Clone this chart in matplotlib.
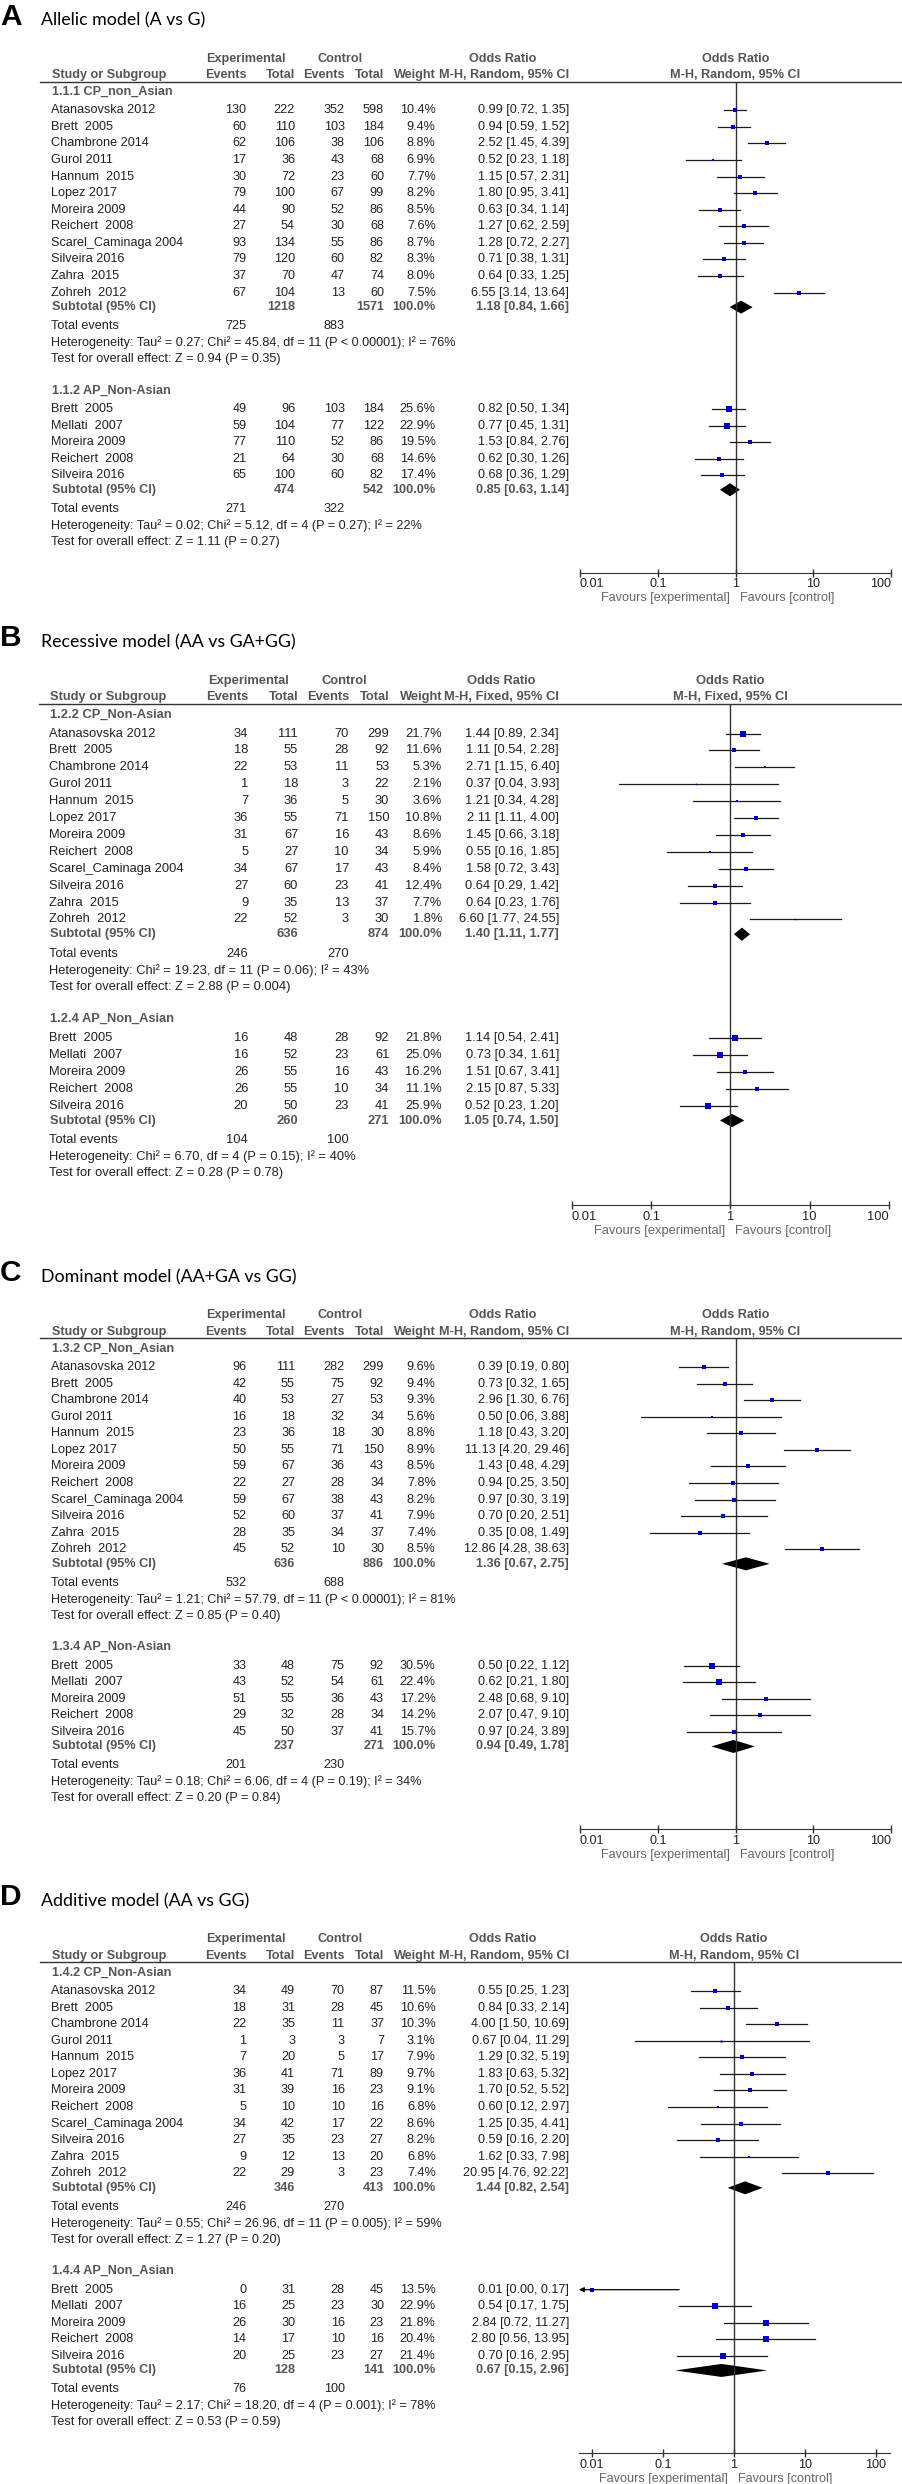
import numpy as np
import matplotlib.pyplot as plt
from matplotlib.ticker import NullLocator

plt.rcParams['font.family'] = 'Liberation Sans'

cp_studies = ["Atanasovska 2012", "Brett  2005", "Chambrone 2014", "Gurol 2011", "Hannum  2015",
              "Lopez 2017", "Moreira 2009", "Reichert  2008", "Scarel_Caminaga 2004",
              "Silveira 2016", "Zahra  2015", "Zohreh  2012"]
ap_studies = ["Brett  2005", "Mellati  2007", "Moreira 2009", "Reichert  2008", "Silveira 2016"]

# A - allelic model
a_cp_exp_events = [130, 60, 62, 17, 30, 79, 44, 27, 93, 79, 37, 67]
a_cp_exp_total = [222, 110, 106, 36, 72, 100, 90, 54, 134, 120, 70, 104]
a_cp_ctl_events = [352, 103, 38, 43, 23, 67, 52, 30, 55, 60, 47, 13]
a_cp_ctl_total = [598, 184, 106, 68, 60, 99, 86, 68, 86, 82, 74, 60]
a_cp_weight = [10.4, 9.4, 8.8, 6.9, 7.7, 8.2, 8.5, 7.6, 8.7, 8.3, 8.0, 7.5]
a_cp_or = [0.99, 0.94, 2.52, 0.52, 1.15, 1.80, 0.63, 1.27, 1.28, 0.71, 0.64, 6.55]
a_cp_lo = [0.72, 0.59, 1.45, 0.23, 0.57, 0.95, 0.34, 0.62, 0.72, 0.38, 0.33, 3.14]
a_cp_hi = [1.35, 1.52, 4.39, 1.18, 2.31, 3.41, 1.14, 2.59, 2.27, 1.31, 1.25, 13.64]
a_cp_subtotal = [1218, 1571, 1.18, 0.84, 1.66]
a_cp_total_events = [725, 883]
a_cp_het = "Heterogeneity: Tau² = 0.27; Chi² = 45.84, df = 11 (P < 0.00001); I² = 76%"
a_cp_test = "Test for overall effect: Z = 0.94 (P = 0.35)"

a_ap_exp_events = [49, 59, 77, 21, 65]
a_ap_exp_total = [96, 104, 110, 64, 100]
a_ap_ctl_events = [103, 77, 52, 30, 60]
a_ap_ctl_total = [184, 122, 86, 68, 82]
a_ap_weight = [25.6, 22.9, 19.5, 14.6, 17.4]
a_ap_or = [0.82, 0.77, 1.53, 0.62, 0.68]
a_ap_lo = [0.50, 0.45, 0.84, 0.30, 0.36]
a_ap_hi = [1.34, 1.31, 2.76, 1.26, 1.29]
a_ap_subtotal = [474, 542, 0.85, 0.63, 1.14]
a_ap_total_events = [271, 322]
a_ap_het = "Heterogeneity: Tau² = 0.02; Chi² = 5.12, df = 4 (P = 0.27); I² = 22%"
a_ap_test = "Test for overall effect: Z = 1.11 (P = 0.27)"

# B - recessive model
b_cp_exp_events = [34, 18, 22, 1, 7, 36, 31, 5, 34, 27, 9, 22]
b_cp_exp_total = [111, 55, 53, 18, 36, 55, 67, 27, 67, 60, 35, 52]
b_cp_ctl_events = [70, 28, 11, 3, 5, 71, 16, 10, 17, 23, 13, 3]
b_cp_ctl_total = [299, 92, 53, 22, 30, 150, 43, 34, 43, 41, 37, 30]
b_cp_weight = [21.7, 11.6, 5.3, 2.1, 3.6, 10.8, 8.6, 5.9, 8.4, 12.4, 7.7, 1.8]
b_cp_or = [1.44, 1.11, 2.71, 0.37, 1.21, 2.11, 1.45, 0.55, 1.58, 0.64, 0.64, 6.60]
b_cp_lo = [0.89, 0.54, 1.15, 0.04, 0.34, 1.11, 0.66, 0.16, 0.72, 0.29, 0.23, 1.77]
b_cp_hi = [2.34, 2.28, 6.40, 3.93, 4.28, 4.00, 3.18, 1.85, 3.43, 1.42, 1.76, 24.55]
b_cp_subtotal = [636, 874, 1.40, 1.11, 1.77]
b_cp_total_events = [246, 270]
b_cp_het = "Heterogeneity: Chi² = 19.23, df = 11 (P = 0.06); I² = 43%"
b_cp_test = "Test for overall effect: Z = 2.88 (P = 0.004)"

b_ap_exp_events = [16, 16, 26, 26, 20]
b_ap_exp_total = [48, 52, 55, 55, 50]
b_ap_ctl_events = [28, 23, 16, 10, 23]
b_ap_ctl_total = [92, 61, 43, 34, 41]
b_ap_weight = [21.8, 25.0, 16.2, 11.1, 25.9]
b_ap_or = [1.14, 0.73, 1.51, 2.15, 0.52]
b_ap_lo = [0.54, 0.34, 0.67, 0.87, 0.23]
b_ap_hi = [2.41, 1.61, 3.41, 5.33, 1.20]
b_ap_subtotal = [260, 271, 1.05, 0.74, 1.50]
b_ap_total_events = [104, 100]
b_ap_het = "Heterogeneity: Chi² = 6.70, df = 4 (P = 0.15); I² = 40%"
b_ap_test = "Test for overall effect: Z = 0.28 (P = 0.78)"

# C - dominant model
c_cp_exp_events = [96, 42, 40, 16, 23, 50, 59, 22, 59, 52, 28, 45]
c_cp_exp_total = [111, 55, 53, 18, 36, 55, 67, 27, 67, 60, 35, 52]
c_cp_ctl_events = [282, 75, 27, 32, 18, 71, 36, 28, 38, 37, 34, 10]
c_cp_ctl_total = [299, 92, 53, 34, 30, 150, 43, 34, 43, 41, 37, 30]
c_cp_weight = [9.6, 9.4, 9.3, 5.6, 8.8, 8.9, 8.5, 7.8, 8.2, 7.9, 7.4, 8.5]
c_cp_or = [0.39, 0.73, 2.96, 0.50, 1.18, 11.13, 1.43, 0.94, 0.97, 0.70, 0.35, 12.86]
c_cp_lo = [0.19, 0.32, 1.30, 0.06, 0.43, 4.20, 0.48, 0.25, 0.30, 0.20, 0.08, 4.28]
c_cp_hi = [0.80, 1.65, 6.76, 3.88, 3.20, 29.46, 4.29, 3.50, 3.19, 2.51, 1.49, 38.63]
c_cp_subtotal = [636, 886, 1.36, 0.67, 2.75]
c_cp_total_events = [532, 688]
c_cp_het = "Heterogeneity: Tau² = 1.21; Chi² = 57.79, df = 11 (P < 0.00001); I² = 81%"
c_cp_test = "Test for overall effect: Z = 0.85 (P = 0.40)"

c_ap_exp_events = [33, 43, 51, 29, 45]
c_ap_exp_total = [48, 52, 55, 32, 50]
c_ap_ctl_events = [75, 54, 36, 28, 37]
c_ap_ctl_total = [92, 61, 43, 34, 41]
c_ap_weight = [30.5, 22.4, 17.2, 14.2, 15.7]
c_ap_or = [0.50, 0.62, 2.48, 2.07, 0.97]
c_ap_lo = [0.22, 0.21, 0.68, 0.47, 0.24]
c_ap_hi = [1.12, 1.80, 9.10, 9.10, 3.89]
c_ap_subtotal = [237, 271, 0.94, 0.49, 1.78]
c_ap_total_events = [201, 230]
c_ap_het = "Heterogeneity: Tau² = 0.18; Chi² = 6.06, df = 4 (P = 0.19); I² = 34%"
c_ap_test = "Test for overall effect: Z = 0.20 (P = 0.84)"

# D - additive model
d_cp_exp_events = [34, 18, 22, 1, 7, 36, 31, 5, 34, 27, 9, 22]
d_cp_exp_total = [49, 31, 35, 3, 20, 41, 39, 10, 42, 35, 12, 29]
d_cp_ctl_events = [70, 28, 11, 3, 5, 71, 16, 10, 17, 23, 13, 3]
d_cp_ctl_total = [87, 45, 37, 7, 17, 89, 23, 16, 22, 27, 20, 23]
d_cp_weight = [11.5, 10.6, 10.3, 3.1, 7.9, 9.7, 9.1, 6.8, 8.6, 8.2, 6.8, 7.4]
d_cp_or = [0.55, 0.84, 4.00, 0.67, 1.29, 1.83, 1.70, 0.60, 1.25, 0.59, 1.62, 20.95]
d_cp_lo = [0.25, 0.33, 1.50, 0.04, 0.32, 0.63, 0.52, 0.12, 0.35, 0.16, 0.33, 4.76]
d_cp_hi = [1.23, 2.14, 10.69, 11.29, 5.19, 5.32, 5.52, 2.97, 4.41, 2.20, 7.98, 92.22]
d_cp_subtotal = [346, 413, 1.44, 0.82, 2.54]
d_cp_total_events = [246, 270]
d_cp_het = "Heterogeneity: Tau² = 0.55; Chi² = 26.96, df = 11 (P = 0.005); I² = 59%"
d_cp_test = "Test for overall effect: Z = 1.27 (P = 0.20)"

d_ap_exp_events = [0, 16, 26, 14, 20]
d_ap_exp_total = [31, 25, 30, 17, 25]
d_ap_ctl_events = [28, 23, 16, 10, 23]
d_ap_ctl_total = [45, 30, 23, 16, 27]
d_ap_weight = [13.5, 22.9, 21.8, 20.4, 21.4]
d_ap_or = [0.01, 0.54, 2.84, 2.80, 0.70]
d_ap_lo = [0.00, 0.17, 0.72, 0.56, 0.16]
d_ap_hi = [0.17, 1.75, 11.27, 13.95, 2.95]
d_ap_subtotal = [128, 141, 0.67, 0.15, 2.96]
d_ap_total_events = [76, 100]
d_ap_het = "Heterogeneity: Tau² = 2.17; Chi² = 18.20, df = 4 (P = 0.001); I² = 78%"
d_ap_test = "Test for overall effect: Z = 0.53 (P = 0.59)"

W, H = 902, 2484
TXT = '#222222'
GREY = '#555555'
BLUE = '#0000c0'

fig = plt.figure(figsize=(W / 100, H / 100), dpi=100)
page = fig.add_axes([0, 0, 1, 1])
page.set_xlim(0, W)
page.set_ylim(H, 0)
page.axis('off')

cols_main = dict(name=51, ev1=246.4, n1=295, ev2=344.6, n2=384, w=435.7, orx=569,
                 exp_c=246, ctl_c=340, orh_c=502.7, line0=40.4)
cols_b = dict(name=49.3, ev1=248.2, n1=298.2, ev2=348.9, n2=389.3, w=442.1, orx=559,
              exp_c=248.2, ctl_c=344.6, orh_c=500.9, line0=38.6)


def group(label, studies, ev1, n1, ev2, n2, w, est, lo, hi, sub, tot, het, test):
    return dict(label=label, studies=studies, ev1=ev1, n1=n1, ev2=ev2, n2=n2, w=w,
                est=est, lo=lo, hi=hi, sub=sub, tot=tot, het=het, test=test)


def ci_text(e, l, h):
    return f"{e:.2f} [{l:.2f}, {h:.2f}]"


def layout(groups, U, k):
    pos = []
    y = U + 10 * k
    for gi, g in enumerate(groups):
        if gi:
            y += 31.3 * k
        rows = y + 18.65 * k + 16.57 * k * np.arange(len(g['studies']))
        sub = rows[-1] + 14.5 * k
        tot = sub + 19 * k
        het = tot + 16.5 * k
        test = het + 16.4 * k
        pos.append(dict(head=y, rows=rows, sub=sub, tot=tot, het=het, test=test))
        y = test
    return pos, y + 31 * k


def draw_panel(letter, title, method, groups, U, k, c, fx0, fx1, xlim, edge_labels):
    fs = 9.1 * k
    pos, axis_y = layout(groups, U, k)

    def put(x, y, s, ha='left', bold=False, color=TXT):
        page.text(x, y, s, ha=ha, va='center', fontsize=fs, color=color,
                  fontweight='bold' if bold else 'normal')

    page.text(0, U - 65 * k, letter, ha='left', va='center', fontsize=21.5,
              fontweight='bold', color='black')
    page.text(41, U - 61 * k, title, ha='left', va='center', fontsize=12.8,
              family='Lato', color='black')

    # forest axes
    ax = fig.add_axes([fx0 / W, 1 - axis_y / H, (fx1 - fx0) / W, (axis_y - U) / H])
    ax.set_xscale('log')
    ax.set_xlim(xlim)
    ax.set_ylim(axis_y, U)
    ax.patch.set_visible(False)
    for side in ['left', 'right', 'top']:
        ax.spines[side].set_visible(False)
    ax.spines['bottom'].set_color('#333333')
    ax.axvline(1, color='#333333', lw=1)
    ax.set_yticks([])
    ax.set_xticks([0.01, 0.1, 1, 10, 100])
    ax.set_xticklabels(['0.01', '0.1', '1', '10', '100'])
    ax.xaxis.set_minor_locator(NullLocator())
    ax.tick_params(axis='x', direction='inout', length=6, width=1, pad=1,
                   labelsize=fs, color='#333333', labelcolor=TXT)
    if edge_labels:
        tl = ax.get_xticklabels()
        tl[0].set_ha('left')
        tl[-1].set_ha('right')
    lx = np.log10(xlim)
    cx = fx0 + (fx1 - fx0) * (-lx[0]) / (lx[1] - lx[0])

    # headers
    h1, h2 = U - 23 * k, U - 6.7 * k
    put(c['exp_c'], h1, 'Experimental', 'center', True, GREY)
    put(c['ctl_c'], h1, 'Control', 'center', True, GREY)
    put(c['orh_c'], h1, 'Odds Ratio', 'center', True, GREY)
    put(cx, h1, 'Odds Ratio', 'center', True, GREY)
    put(c['name'] + 0.7, h2, 'Study or Subgroup', bold=True, color=GREY)
    for key, s in [('ev1', 'Events'), ('n1', 'Total'), ('ev2', 'Events'),
                   ('n2', 'Total'), ('w', 'Weight'), ('orx', method)]:
        put(c[key], h2, s, 'right', True, GREY)
    put(cx, h2, method, 'center', True, GREY)
    page.plot([c['line0'], W], [U, U], color='#333333', lw=1)

    for g, p in zip(groups, pos):
        put(c['name'] + 0.7, p['head'], g['label'], bold=True, color=GREY)
        for i, y in enumerate(p['rows']):
            put(c['name'], y, g['studies'][i])
            put(c['ev1'], y, str(g['ev1'][i]), 'right')
            put(c['n1'], y, str(g['n1'][i]), 'right')
            put(c['ev2'], y, str(g['ev2'][i]), 'right')
            put(c['n2'], y, str(g['n2'][i]), 'right')
            put(c['w'], y, f"{g['w'][i]:.1f}%", 'right')
            put(c['orx'], y, ci_text(g['est'][i], g['lo'][i], g['hi'][i]), 'right')
            lo, hi = g['lo'][i], g['hi'][i]
            if lo < xlim[0]:
                ax.annotate('', xy=(xlim[0], y), xytext=(hi, y),
                            arrowprops=dict(arrowstyle='-|>', color='black', lw=0.9,
                                            mutation_scale=7, shrinkA=0, shrinkB=0))
            else:
                ax.plot([lo, hi], [y, y], color='#1a1a1a', lw=0.9)
            ax.plot(g['est'][i], y, marker='s', ms=0.8 * np.sqrt(g['w'][i]),
                    color=BLUE, mew=0)

        n1, n2, e, l, h = g['sub']
        ys = p['sub']
        put(c['name'] + 0.7, ys, 'Subtotal (95% CI)', bold=True, color=GREY)
        put(c['n1'], ys, str(n1), 'right', True, GREY)
        put(c['n2'], ys, str(n2), 'right', True, GREY)
        put(c['w'], ys, '100.0%', 'right', True, GREY)
        put(c['orx'], ys, ci_text(e, l, h), 'right', True, GREY)
        dh = 6.5 * k
        ax.fill([l, e, h, e], [ys, ys - dh, ys, ys + dh], color='black', lw=0)

        put(c['name'], p['tot'], 'Total events')
        put(c['ev1'], p['tot'], str(g['tot'][0]), 'right')
        put(c['ev2'], p['tot'], str(g['tot'][1]), 'right')
        put(c['name'], p['het'], g['het'])
        put(c['name'], p['test'], g['test'])

    page.text(cx - 5.5 * k, axis_y + 25.5 * k, 'Favours [experimental]', ha='right',
              va='center', fontsize=fs, color='#666666')
    page.text(cx + 4.5 * k, axis_y + 25.5 * k, 'Favours [control]', ha='left',
              va='center', fontsize=fs, color='#666666')


a_groups = [
    group("1.1.1 CP_non_Asian", cp_studies, a_cp_exp_events, a_cp_exp_total, a_cp_ctl_events,
          a_cp_ctl_total, a_cp_weight, a_cp_or, a_cp_lo, a_cp_hi, a_cp_subtotal,
          a_cp_total_events, a_cp_het, a_cp_test),
    group("1.1.2 AP_Non-Asian", ap_studies, a_ap_exp_events, a_ap_exp_total, a_ap_ctl_events,
          a_ap_ctl_total, a_ap_weight, a_ap_or, a_ap_lo, a_ap_hi, a_ap_subtotal,
          a_ap_total_events, a_ap_het, a_ap_test),
]
b_groups = [
    group("1.2.2 CP_Non-Asian", cp_studies, b_cp_exp_events, b_cp_exp_total, b_cp_ctl_events,
          b_cp_ctl_total, b_cp_weight, b_cp_or, b_cp_lo, b_cp_hi, b_cp_subtotal,
          b_cp_total_events, b_cp_het, b_cp_test),
    group("1.2.4 AP_Non_Asian", ap_studies, b_ap_exp_events, b_ap_exp_total, b_ap_ctl_events,
          b_ap_ctl_total, b_ap_weight, b_ap_or, b_ap_lo, b_ap_hi, b_ap_subtotal,
          b_ap_total_events, b_ap_het, b_ap_test),
]
c_groups = [
    group("1.3.2 CP_Non_Asian", cp_studies, c_cp_exp_events, c_cp_exp_total, c_cp_ctl_events,
          c_cp_ctl_total, c_cp_weight, c_cp_or, c_cp_lo, c_cp_hi, c_cp_subtotal,
          c_cp_total_events, c_cp_het, c_cp_test),
    group("1.3.4 AP_Non-Asian", ap_studies, c_ap_exp_events, c_ap_exp_total, c_ap_ctl_events,
          c_ap_ctl_total, c_ap_weight, c_ap_or, c_ap_lo, c_ap_hi, c_ap_subtotal,
          c_ap_total_events, c_ap_het, c_ap_test),
]
d_groups = [
    group("1.4.2 CP_Non-Asian", cp_studies, d_cp_exp_events, d_cp_exp_total, d_cp_ctl_events,
          d_cp_ctl_total, d_cp_weight, d_cp_or, d_cp_lo, d_cp_hi, d_cp_subtotal,
          d_cp_total_events, d_cp_het, d_cp_test),
    group("1.4.4 AP_Non_Asian", ap_studies, d_ap_exp_events, d_ap_exp_total, d_ap_ctl_events,
          d_ap_ctl_total, d_ap_weight, d_ap_or, d_ap_lo, d_ap_hi, d_ap_subtotal,
          d_ap_total_events, d_ap_het, d_ap_test),
]

draw_panel('A', 'Allelic model (A vs G)', 'M-H, Random, 95% CI', a_groups,
           81.7, 1.0, cols_main, 580, 891, (0.01, 100), True)
draw_panel('B', 'Recessive model (AA vs GA+GG)', 'M-H, Fixed, 95% CI', b_groups,
           704.3, 1.02, cols_b, 571.7, 889, (0.01, 100), True)
draw_panel('C', 'Dominant model (AA+GA vs GG)', 'M-H, Random, 95% CI', c_groups,
           1338.4, 1.0, cols_main, 580, 891, (0.01, 100), True)
draw_panel('D', 'Additive model (AA vs GG)', 'M-H, Random, 95% CI', d_groups,
           1962.4, 1.0, cols_main, 579, 890, (10 ** -2.18, 10 ** 2.2), False)

fig.savefig('out.png', dpi=100)
